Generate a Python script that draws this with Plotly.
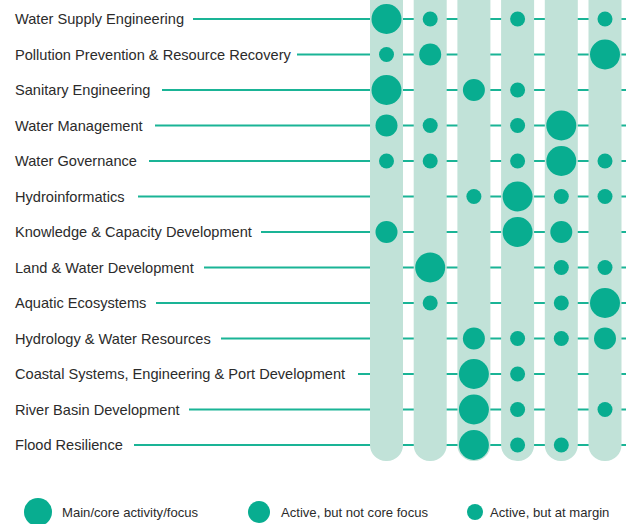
import plotly.graph_objects as go

# ---- data ----
topics = [
    "Water Supply Engineering",
    "Pollution Prevention & Resource Recovery",
    "Sanitary Engineering",
    "Water Management",
    "Water Governance",
    "Hydroinformatics",
    "Knowledge & Capacity Development",
    "Land & Water Development",
    "Aquatic Ecosystems",
    "Hydrology & Water Resources",
    "Coastal Systems, Engineering & Port Development",
    "River Basin Development",
    "Flood Resilience",
]
columns = ["C1", "C2", "C3", "C4", "C5", "C6"]
# L = main/core, M = active not core, S = active at margin, "" = none
levels = [
    ["L", "S", "",  "S", "",  "S"],
    ["S", "M", "",  "",  "",  "L"],
    ["L", "",  "M", "S", "",  ""],
    ["M", "S", "",  "S", "L", ""],
    ["S", "S", "",  "S", "L", "S"],
    ["",  "",  "S", "L", "S", "S"],
    ["M", "",  "",  "L", "M", ""],
    ["",  "L", "",  "",  "S", "S"],
    ["",  "S", "",  "",  "S", "L"],
    ["",  "",  "M", "S", "S", "M"],
    ["",  "",  "L", "S", "",  ""],
    ["",  "",  "L", "S", "",  "S"],
    ["",  "",  "L", "S", "S", ""],
]
legend_levels = ["L", "M", "S"]
legend_labels = ["Main/core activity/focus", "Active, but not core focus", "Active, but at margin"]

# ---- styles ----
W, H = 626, 524
DOT = "#08ad90"
BAR = "#c1e2d8"
LINE = "#1ab496"
TXT = "#2b2b2b"
FONT = "Liberation Sans, Arial, sans-serif"
size_px = {"L": 30, "M": 22, "S": 15}
legend_size_px = {"L": 28, "M": 22, "S": 16}
# pixel geometry
col0_px, col_dx = 386.5, 43.7
row0_px, row_dy = 19, 35.5
bar_bottom_px = 461
label_x_px = 13
line_start_px = [193, 297, 162, 155, 149, 138, 261, 204, 156, 221, 358, 189, 134]
legend_y_px = 512
legend_dot_px = [38, 259, 475]
legend_text_px = [60, 279, 488]

n_rows = len(topics)
n_cols = len(columns)
col_idx = list(range(n_cols))

fig = go.Figure()

# bars (rounded bottom end)
bar_bottom_row = (bar_bottom_px - row0_px) / row_dy
fig.add_trace(go.Bar(
    x=col_idx, y=[bar_bottom_row + 1.0] * n_cols, base=[-1.0] * n_cols,
    width=33 / col_dx, marker=dict(color=BAR, cornerradius="50%", line=dict(width=0)),
    hoverinfo="skip", showlegend=False,
))

# dots
xs, ys, ss = [], [], []
for r, row in enumerate(levels):
    for c, lv in enumerate(row):
        if lv:
            xs.append(c)
            ys.append(r)
            ss.append(size_px[lv])
fig.add_trace(go.Scatter(
    x=xs, y=ys, mode="markers",
    marker=dict(size=ss, color=DOT, opacity=1, line=dict(width=0)),
    hoverinfo="skip", showlegend=False,
))

# legend (on overlay paper-like axes)
fig.add_trace(go.Scatter(
    x=[p / W for p in legend_dot_px], y=[1 - legend_y_px / H] * 3, mode="markers",
    marker=dict(size=[legend_size_px[l] for l in legend_levels], color=DOT, opacity=1, line=dict(width=0)),
    xaxis="x2", yaxis="y2", hoverinfo="skip", showlegend=False, cliponaxis=False,
))

shapes = []
annotations = []
for r, name in enumerate(topics):
    shapes.append(dict(type="line", xref="paper", yref="y", layer="below",
                       x0=line_start_px[r] / W, x1=1, y0=r, y1=r,
                       line=dict(color=LINE, width=2)))
    annotations.append(dict(text=name, xref="paper", yref="y", x=label_x_px / W, y=r,
                            xanchor="left", yanchor="middle", showarrow=False,
                            font=dict(size=14.6, color=TXT, family=FONT)))
for lbl, tx in zip(legend_labels, legend_text_px):
    annotations.append(dict(text=lbl, xref="paper", yref="paper", x=tx / W, y=1 - legend_y_px / H,
                            xanchor="left", yanchor="middle", showarrow=False,
                            font=dict(size=13.1, color=TXT, family=FONT)))

fig.update_layout(
    width=W, height=H, margin=dict(l=0, r=0, t=0, b=0),
    paper_bgcolor="white", plot_bgcolor="white",
    xaxis=dict(range=[-col0_px / col_dx, (W - col0_px) / col_dx], visible=False, fixedrange=True),
    yaxis=dict(range=[(H - row0_px) / row_dy, -row0_px / row_dy], visible=False, fixedrange=True),
    xaxis2=dict(range=[0, 1], overlaying="x", visible=False),
    yaxis2=dict(range=[0, 1], overlaying="y", visible=False),
    shapes=shapes, annotations=annotations, showlegend=False,
)

fig.write_html("out.html", config={"displayModeBar": False},
               post_script="document.body.style.margin='0';document.body.style.overflow='hidden';")
